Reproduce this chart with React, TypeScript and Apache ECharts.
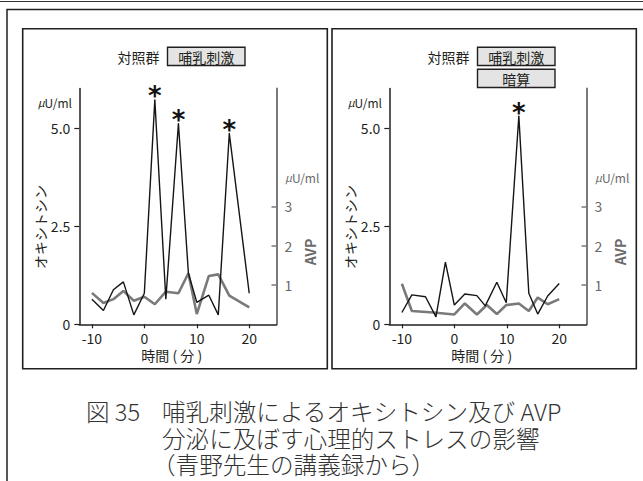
import React, { useEffect, useRef } from 'react';
import * as echarts from 'echarts';

// ---- tick values ----
const xTickValues = [-10, 0, 10, 20];
const oxyTickValues = [0, 2.5, 5];
const avpTickValues = [1, 2, 3];

// ---- left panel: 対照群 / 哺乳刺激 ----
const leftOxyTime = [-10, -7.8, -5.9, -4.0, -2.0, 0, 2.0, 4.1, 6.5, 8.4, 10, 12.3, 14.1, 16.2, 20];
const leftOxy = [0.64, 0.35, 0.88, 1.08, 0.24, 0.79, 5.71, 0.64, 5.11, 1.3, 0.56, 0.74, 0.24, 4.86, 0.79];
const leftAvpTime = [-10, -7.8, -5.9, -4.0, -2.0, 0, 2.0, 4.1, 6.5, 8.4, 10, 12.3, 14.1, 16.2, 20];
const leftAvp = [0.8, 0.54, 0.64, 0.85, 0.6, 0.7, 0.51, 0.83, 0.79, 1.3, 0.26, 1.23, 1.27, 0.73, 0.43];
const leftPeaks = [6, 8, 13];

// ---- right panel: 対照群 / 哺乳刺激 + 暗算 ----
const rightOxyTime = [-10, -8.1, -5.5, -3.5, -1.7, 0, 2.0, 4.3, 5.9, 8.1, 9.9, 12.3, 14.2, 15.9, 17.8, 20];
const rightOxy = [0.3, 0.75, 0.7, 0.19, 1.58, 0.49, 0.77, 0.73, 0.47, 1.07, 0.55, 5.3, 0.79, 0.26, 0.72, 1.04];
const rightAvpTime = [-10, -8.1, -4.0, 0, 2.0, 4.3, 6.2, 8.1, 9.9, 12.3, 14.2, 15.9, 17.8, 20];
const rightAvp = [1.03, 0.34, 0.3, 0.25, 0.53, 0.25, 0.49, 0.26, 0.49, 0.53, 0.34, 0.68, 0.51, 0.64];
const rightPeaks = [11];

// ---- texts ----
const panelGroupLabel = '対照群';
const panelBoxes = [['哺乳刺激'], ['哺乳刺激', '暗算']];
const xAxisTitle = '時間 ( 分 )';
const oxyTitle = 'オキシトシン';
const avpTitle = 'AVP';
const captionLines = ['哺乳刺激によるオキシトシン及び AVP', '分泌に及ぼす心理的ストレスの影響', '（青野先生の講義録から）'];
const captionFig = '図 35';

const JP = '"Noto Sans CJK JP", "Noto Sans", sans-serif';
const DARK = '#231f20';
const GRAY = '#7a7a7a';

function makeData(times: number[], vals: number[], peaks: number[]) {
  return times.map((t, i) =>
    peaks.includes(i)
      ? { value: [t, vals[i]], symbol: 'circle', symbolSize: 1, label: { show: true } }
      : { value: [t, vals[i]] }
  );
}

export default function App() {
  const ref = useRef<HTMLDivElement>(null);
  useEffect(() => {
    if (!ref.current) return;
    const chart = echarts.init(ref.current, undefined, { renderer: 'svg' });
    const DX = [0, 310];
    const gridLeft = 79.3;
    const gridTop = 88.5;
    const gridW = 197.2;
    const gridH = 235.8;

    const grids = DX.map((dx) => ({ left: gridLeft + dx, top: gridTop, width: gridW, height: gridH }));
    const xAxes = DX.map((_, gi) => ({
      gridIndex: gi,
      type: 'value',
      min: -12.4,
      max: 25.2,
      splitLine: { show: false },
      axisLine: { show: true, onZero: false, lineStyle: { color: DARK, width: 1.5 } },
      axisTick: { show: true, length: 4, lineStyle: { color: DARK, width: 1.2 }, customValues: xTickValues },
      axisLabel: { customValues: xTickValues, color: DARK, fontSize: 14, lineHeight: 13, fontFamily: JP, margin: 7 },
    }));
    const yAxes: any[] = [];
    DX.forEach((_, gi) => {
      yAxes.push({
        gridIndex: gi,
        type: 'value',
        position: 'left',
        min: 0,
        max: 6,
        splitLine: { show: false },
        axisLine: { show: true, onZero: false, lineStyle: { color: DARK, width: 1.5 } },
        axisTick: { show: true, length: 5, lineStyle: { color: DARK, width: 1.2 }, customValues: oxyTickValues },
        axisLabel: {
          customValues: oxyTickValues,
          color: DARK,
          fontSize: 14,
          fontFamily: JP,
          margin: 9,
          formatter: (v: number) => (v === 0 ? '0' : v.toFixed(1)),
        },
      });
      yAxes.push({
        gridIndex: gi,
        type: 'value',
        position: 'right',
        min: 0,
        max: 6,
        splitLine: { show: false },
        axisLine: { show: true, onZero: false, lineStyle: { color: GRAY, width: 2 } },
        axisTick: { show: true, inside: true, length: 5, lineStyle: { color: GRAY, width: 1.5 }, customValues: avpTickValues },
        axisLabel: { customValues: avpTickValues, color: '#6a6a6a', fontSize: 14, fontFamily: JP, margin: 8 },
      });
    });

    const peakLabel = {
      show: false,
      formatter: '*',
      position: 'top',
      distance: -10,
      fontSize: 26,
      fontWeight: 'bold',
      color: '#111',
      fontFamily: '"DejaVu Sans", sans-serif',
    };

    const series: any[] = [
      { type: 'line', xAxisIndex: 0, yAxisIndex: 1, data: makeData(leftAvpTime, leftAvp, []), symbol: 'none', lineStyle: { color: GRAY, width: 2.6 }, z: 2 },
      { type: 'line', xAxisIndex: 0, yAxisIndex: 0, data: makeData(leftOxyTime, leftOxy, leftPeaks), symbol: 'none', lineStyle: { color: '#151515', width: 1.4 }, itemStyle: { color: '#151515' }, label: peakLabel, z: 3 },
      { type: 'line', xAxisIndex: 1, yAxisIndex: 3, data: makeData(rightAvpTime, rightAvp, []), symbol: 'none', lineStyle: { color: GRAY, width: 2.6 }, z: 2 },
      { type: 'line', xAxisIndex: 1, yAxisIndex: 2, data: makeData(rightOxyTime, rightOxy, rightPeaks), symbol: 'none', lineStyle: { color: '#151515', width: 1.4 }, itemStyle: { color: '#151515' }, label: peakLabel, z: 3 },
    ];

    const graphic: any[] = [
      { type: 'line', shape: { x1: 0, y1: 1.5, x2: 643, y2: 1.5 }, style: { stroke: '#333', lineWidth: 1.2 } },
      { type: 'polyline', shape: { points: [[7, 481], [7, 9.5], [643, 9.5]] }, style: { stroke: DARK, lineWidth: 1.5, fill: null } },
    ];
    const panelX = [22.7, 332];
    const panelW = [304.6, 304.3];
    DX.forEach((dx, pi) => {
      graphic.push({ type: 'rect', shape: { x: panelX[pi], y: 28.7, width: panelW[pi], height: 340 }, style: { fill: 'none', stroke: DARK, lineWidth: 1.6 } });
      graphic.push({ type: 'text', x: 138.5 + dx, y: 57, style: { text: panelGroupLabel, fontSize: 14, fontFamily: JP, fill: DARK, align: 'center', verticalAlign: 'middle' } });
      panelBoxes[pi].forEach((lab, bi) => {
        const by = 47.3 + bi * 22;
        graphic.push({ type: 'rect', shape: { x: 167.5 + dx, y: by, width: 77.5, height: 18.2 }, style: { fill: '#e4e4e4', stroke: DARK, lineWidth: 1.4 } });
        graphic.push({ type: 'text', x: 206.2 + dx, y: by + 9.3, style: { text: lab, fontSize: 14, fontFamily: JP, fill: DARK, align: 'center', verticalAlign: 'middle' } });
      });
      graphic.push({ type: 'text', x: 72 + dx, y: 102, style: { text: '{m|μ}U/ml', fontSize: 12, fontFamily: JP, fill: DARK, align: 'right', verticalAlign: 'middle', rich: { m: { fontSize: 11, fontStyle: 'italic', fill: DARK, fontFamily: JP } } } });
      graphic.push({ type: 'text', x: 285 + dx, y: 177, style: { text: '{m|μ}U/ml', fontSize: 12, fontFamily: JP, fill: '#6a6a6a', align: 'left', verticalAlign: 'middle', rich: { m: { fontSize: 11, fontStyle: 'italic', fill: '#6a6a6a', fontFamily: JP } } } });
      graphic.push({ type: 'text', x: 40 + dx, y: 227, rotation: Math.PI / 2, style: { text: oxyTitle, fontSize: 14, fontFamily: JP, fill: DARK, align: 'center', verticalAlign: 'middle' } });
      graphic.push({ type: 'text', x: 310 + dx, y: 252, rotation: Math.PI / 2, style: { text: avpTitle, fontSize: 14, fontWeight: 'bold', fontFamily: JP, fill: '#6a6a6a', align: 'center', verticalAlign: 'middle' } });
      graphic.push({ type: 'text', x: 171.7 + dx, y: 355, style: { text: xAxisTitle, fontSize: 14, fontFamily: JP, fill: DARK, align: 'center', verticalAlign: 'middle', lineHeight: 13 } });
    });
    const capStyle = { fontSize: 23.6, lineHeight: 24, fontWeight: 300, fontFamily: JP, fill: '#333', verticalAlign: 'middle', align: 'left' };
    graphic.push({ type: 'text', x: 86, y: 411, style: { ...capStyle, text: captionFig } });
    graphic.push({ type: 'text', x: 162, y: 411, style: { ...capStyle, text: captionLines[0] } });
    graphic.push({ type: 'text', x: 162, y: 437.5, style: { ...capStyle, text: captionLines[1] } });
    graphic.push({ type: 'text', x: 152, y: 464, style: { ...capStyle, text: captionLines[2] } });

    chart.setOption({
      animation: false,
      backgroundColor: '#ffffff',
      grid: grids,
      xAxis: xAxes,
      yAxis: yAxes,
      series,
      graphic,
    });
    return () => chart.dispose();
  }, []);
  return <div ref={ref} style={{ position: 'fixed', left: 0, top: 0, width: 643, height: 481 }} />;
}
